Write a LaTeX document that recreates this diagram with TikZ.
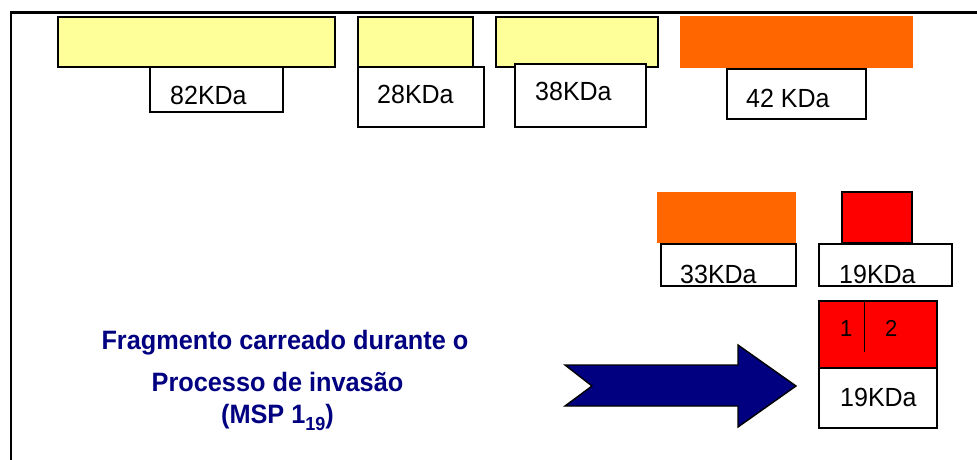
\documentclass[tikz,border=0pt]{standalone}
\usepackage{fontspec}
\setmainfont{Liberation Sans}
\definecolor{pyellow}{HTML}{FFFF99}
\definecolor{porange}{HTML}{FF6600}
\definecolor{pred}{HTML}{FF0000}
\definecolor{pnavy}{HTML}{000080}
\newcommand{\talltxt}[1]{\scalebox{1}[1.05]{#1}}
\begin{document}
\begin{tikzpicture}[x=1pt,y=-1pt,
  bar/.style={draw=black, line width=1.6pt, inner sep=0pt, outer sep=0pt, anchor=north west},
  ybar/.style={bar, fill=pyellow},
  obar/.style={draw=none, fill=porange, inner sep=0pt, outer sep=0pt, anchor=north west},
  rbar/.style={bar, fill=pred},
  wbox/.style={bar, fill=white},
  lbl/.style={inner sep=0pt, anchor=base west, font=\fontsize{25}{30}\selectfont},
  num/.style={inner sep=0pt, anchor=base west, font=\fontsize{22}{26}\selectfont},
  caption/.style={inner sep=0pt, anchor=base, text=pnavy, font=\bfseries\fontsize{25.3}{30}\selectfont},
  bigarrow/.style={draw=black, fill=pnavy, line width=1.4pt, line join=miter},
  frameline/.style={draw=black, line width=2.2pt, line join=miter}
]
\useasboundingbox (0,0) rectangle (977,460);

% frame
\coordinate (fTR) at (977,12.5);
\coordinate (fTL) at (11,12.5);
\coordinate (fBL) at (11,460);
\draw[frameline] (fTR) -- (fTL) -- (fBL);

% 82 KDa
\node[ybar, minimum width=277pt, minimum height=50pt] (y82) at (58,17) {};
\node[wbox, minimum width=133pt, minimum height=45pt] (b82) at (150,67) {};
\node[lbl] (t82) at (170,104) {\talltxt{82KDa}};

% 28 KDa
\node[ybar, minimum width=115pt, minimum height=50pt] (y28) at (358,17) {};
\node[wbox, minimum width=126pt, minimum height=60pt] (b28) at (358,67) {};
\node[lbl] (t28) at (377,103) {\talltxt{28KDa}};

% 38 KDa
\node[ybar, minimum width=162pt, minimum height=50pt] (y38) at (496,17) {};
\node[wbox, minimum width=131pt, minimum height=63pt] (b38) at (515,64) {};
\node[lbl] (t38) at (535,100) {\talltxt{38KDa}};

% 42 KDa
\node[obar, minimum width=233pt, minimum height=52pt] (o42) at (680,16) {};
\node[wbox, minimum width=139pt, minimum height=50pt] (b42) at (727,69) {};
\node[lbl] (t42) at (746,107) {\talltxt{42 KDa}};

% 33 KDa
\node[obar, minimum width=139pt, minimum height=51pt] (o33) at (657,192) {};
\node[wbox, minimum width=135pt, minimum height=42pt] (b33) at (661,244) {};
\node[lbl] (t33) at (680,283) {\talltxt{33KDa}};

% 19 KDa upper
\node[rbar, minimum width=70pt, minimum height=51pt] (r19) at (842,192) {};
\node[wbox, minimum width=133pt, minimum height=42pt] (b19) at (819,244) {};
\node[lbl] (t19) at (839,283) {\talltxt{19KDa}};

% 19 KDa lower (MSP1-19)
\node[rbar, minimum width=118pt, minimum height=67pt] (r19b) at (819,301) {};
\node[wbox, minimum width=118pt, minimum height=60pt] (b19b) at (819,368) {};
\coordinate (dTop) at (864,301);
\coordinate (dBot) at (864,352);
\draw[line width=1pt] (dTop) -- (dBot);
\node[num] (n1) at (840,336) {\talltxt{1}};
\node[num] (n2) at (885,336) {\talltxt{2}};
\node[lbl] (t19b) at (840,406) {\talltxt{19KDa}};

% big arrow
\draw[bigarrow] (565,365) -- (738,365) -- (738,345) -- (796,386) -- (738,427)
  -- (738,406) -- (565,406) -- (592,386) -- cycle;

% caption
\node[caption] (c1) at (285,349) {\talltxt{Fragmento carreado durante o}};
\node[caption] (c2) at (277.5,391) {\talltxt{Processo de invasão}};
\node[caption] (c3) at (277.5,423) {\talltxt{(MSP 1\raisebox{-7pt}{\fontsize{18}{18}\selectfont 19})}};
\end{tikzpicture}
\end{document}
